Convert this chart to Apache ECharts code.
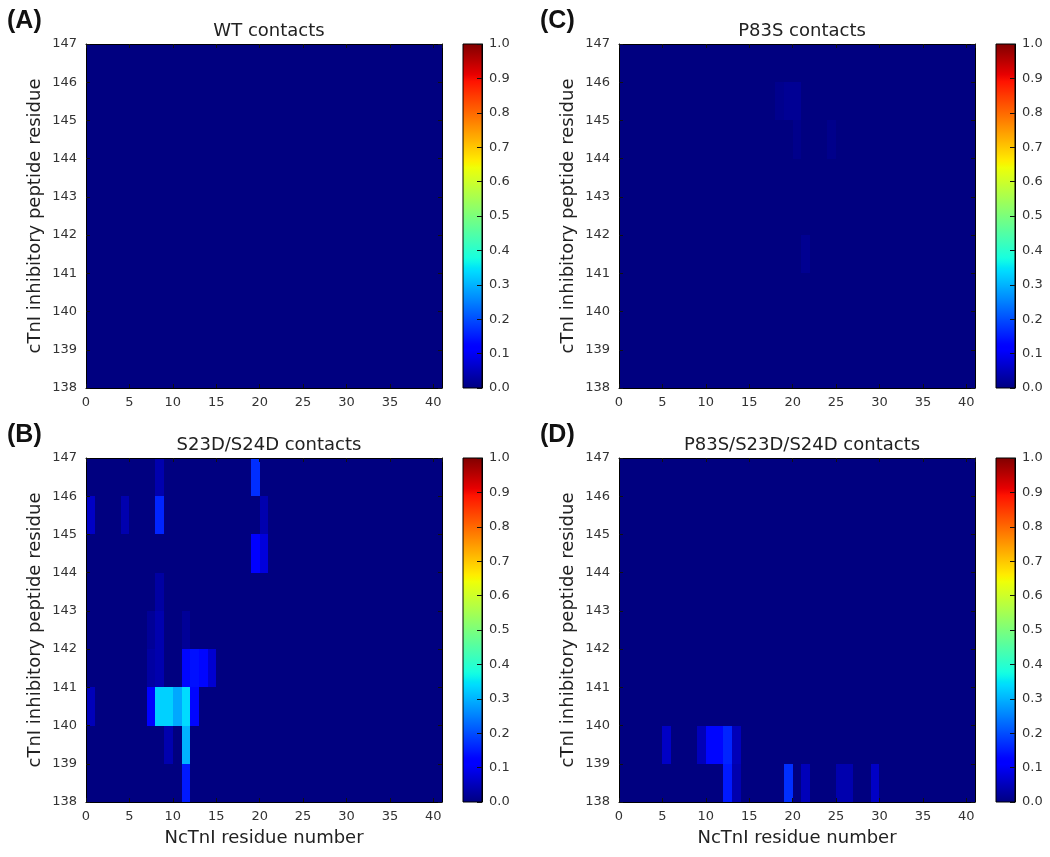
<!DOCTYPE html>
<html>
<head>
<meta charset="utf-8">
<script src="https://cdn.jsdelivr.net/npm/echarts@6/dist/echarts.min.js"></script>
<style>html,body{margin:0;padding:0;background:#fff}#c{width:1050px;height:857px}</style>
</head>
<body>
<div id="c"></div>
<script>
// ---- data (sparse: [NcTnI residue, cTnI residue, contact fraction]; all other cells are 0) ----
const xResidues = [0, 41];          // x extent (residue bins 0..40)
const yResidues = [138, 147];       // y extent (residue bins 138..146)
const xTickStep = 5;
const cbTicks = [0.0, 0.1, 0.2, 0.3, 0.4, 0.5, 0.6, 0.7, 0.8, 0.9, 1.0];

const panelTitles = ['WT contacts', 'S23D/S24D contacts', 'P83S contacts', 'P83S/S23D/S24D contacts'];
const panelLetters = ['(A)', '(B)', '(C)', '(D)'];

const wtContacts = [];
const s23dS24dContacts = [
  [19,146,0.17],[8,146,0.04],
  [0,145,0.06],[4,145,0.04],[8,145,0.16],[20,145,0.04],
  [19,144,0.12],[20,144,0.08],
  [8,143,0.03],
  [7,142,0.02],[8,142,0.04],[11,142,0.02],
  [7,141,0.03],[8,141,0.04],[11,141,0.13],[12,141,0.14],[13,141,0.13],[14,141,0.07],
  [0,140,0.05],[7,140,0.12],[8,140,0.33],[9,140,0.33],[10,140,0.29],[11,140,0.34],[12,140,0.13],
  [9,139,0.04],[11,139,0.30],
  [11,138,0.15]
];
const p83sContacts = [
  [18,145,0.012],[19,145,0.018],[20,145,0.018],
  [20,144,0.01],[24,144,0.01],
  [21,141,0.015]
];
const p83sS23dS24dContacts = [
  [5,139,0.06],[9,139,0.05],[10,139,0.13],[11,139,0.13],[12,139,0.16],[13,139,0.05],
  [12,138,0.15],[13,138,0.04],[19,138,0.17],[21,138,0.05],[25,138,0.04],[26,138,0.04],[29,138,0.06]
];
const panelData = [wtContacts, s23dS24dContacts, p83sContacts, p83sS23dS24dContacts];

// ---- jet colormap (matplotlib segment data) ----
const JET = {
  r: [[0,0],[0.35,0],[0.66,1],[0.89,1],[1,0.5]],
  g: [[0,0],[0.125,0],[0.375,1],[0.64,1],[0.91,0],[1,0]],
  b: [[0,0.5],[0.11,1],[0.34,1],[0.65,0],[1,0]]
};
function seg(pts, v) {
  v = Math.max(0, Math.min(1, v));
  for (let i = 1; i < pts.length; i++) {
    if (v <= pts[i][0]) {
      const t = (v - pts[i-1][0]) / (pts[i][0] - pts[i-1][0]);
      return pts[i-1][1] + t * (pts[i][1] - pts[i-1][1]);
    }
  }
  return pts[pts.length-1][1];
}
function jet(v) {
  const c = k => Math.round(255 * seg(JET[k], v));
  return 'rgb(' + c('r') + ',' + c('g') + ',' + c('b') + ')';
}

// full table built from the sparse lists
function fullTable(list) {
  const m = {};
  list.forEach(d => { m[d[0] + '_' + d[1]] = d[2]; });
  const out = [];
  for (let x = xResidues[0]; x < xResidues[1]; x++)
    for (let y = yResidues[0]; y < yResidues[1]; y++)
      out.push([x, y, m[x + '_' + y] || 0]);
  return out;
}

// ---- layout ----
const FONT = 'DejaVu Sans';
const plotW = 356, plotH = 344;
const lefts = [86, 86, 619, 619];
const tops = [44, 458, 44, 458];
const cbOffset = 377, cbW = 19;

const grid = [], xAxis = [], yAxis = [], series = [], title = [];
const axisLineStyle = { color: '#000', width: 1 };
const labelStyle = { color: '#333', fontSize: 13, fontFamily: FONT };
const tickStyle = { show: true, inside: true, length: 4, lineStyle: { color: '#111' } };

for (let p = 0; p < 4; p++) {
  const gi = grid.length;
  grid.push({ left: lefts[p], top: tops[p], width: plotW, height: plotH,
              show: true, backgroundColor: jet(0), borderWidth: 0 });
  const bottomRow = (p === 1 || p === 3);
  const xi = xAxis.length;
  xAxis.push({
    type: 'value', gridIndex: gi, min: xResidues[0], max: xResidues[1], interval: xTickStep,
    position: 'bottom', z: 5,
    axisLine: { show: true, onZero: false, lineStyle: axisLineStyle },
    axisTick: tickStyle,
    axisLabel: Object.assign({ margin: 8, showMaxLabel: false }, labelStyle),
    splitLine: { show: false },
    name: bottomRow ? 'NcTnI residue number' : '',
    nameLocation: 'middle', nameGap: 27,
    nameTextStyle: { color: '#222', fontSize: 18, fontFamily: FONT }
  });
  xAxis.push({
    type: 'value', gridIndex: gi, min: xResidues[0], max: xResidues[1], interval: xTickStep,
    position: 'top', z: 5,
    axisLine: { show: true, onZero: false, lineStyle: axisLineStyle },
    axisTick: tickStyle,
    axisLabel: { show: false }, splitLine: { show: false }
  });
  const yi = yAxis.length;
  yAxis.push({
    type: 'value', gridIndex: gi, min: yResidues[0], max: yResidues[1], interval: 1,
    position: 'left', z: 5,
    axisLine: { show: true, onZero: false, lineStyle: axisLineStyle },
    axisTick: tickStyle,
    axisLabel: Object.assign({ margin: 9 }, labelStyle),
    splitLine: { show: false },
    name: 'cTnI inhibitory peptide residue',
    nameLocation: 'middle', nameGap: 42, nameRotate: 90,
    nameTextStyle: { color: '#222', fontSize: 18, fontFamily: FONT }
  });
  yAxis.push({
    type: 'value', gridIndex: gi, min: yResidues[0], max: yResidues[1], interval: 1,
    position: 'right', z: 5,
    axisLine: { show: true, onZero: false, lineStyle: axisLineStyle },
    axisTick: tickStyle,
    axisLabel: { show: false }, splitLine: { show: false }
  });
  series.push({
    type: 'custom', xAxisIndex: xi, yAxisIndex: yi, z: 1,
    data: fullTable(panelData[p]),
    renderItem: function (params, api) {
      const x = api.value(0), y = api.value(1), v = api.value(2);
      const a = api.coord([x, y + 1]);
      const b = api.coord([x + 1, y]);
      const x0 = Math.round(a[0]), y0 = Math.round(a[1]);
      const x1 = Math.round(b[0]), y1 = Math.round(b[1]);
      return { type: 'rect',
        shape: { x: x0, y: y0, width: x1 - x0, height: y1 - y0 },
        style: { fill: jet(v), stroke: null, lineWidth: 0 } };
    }
  });

  // colorbar
  const cg = grid.length;
  grid.push({ left: lefts[p] + cbOffset, top: tops[p], width: cbW, height: plotH });
  const cxi = xAxis.length;
  xAxis.push({ type: 'value', gridIndex: cg, min: 0, max: 1, show: false });
  const cyi = yAxis.length;
  yAxis.push({
    type: 'value', gridIndex: cg, min: cbTicks[0], max: cbTicks[cbTicks.length - 1], interval: 0.1,
    position: 'right', z: 5,
    axisLine: { show: true, onZero: false, lineStyle: axisLineStyle },
    axisTick: { show: true, inside: true, length: 5, lineStyle: { color: '#111' } },
    axisLabel: Object.assign({ margin: 7, formatter: v => v.toFixed(1) }, labelStyle),
    splitLine: { show: false }
  });
  const stops = [];
  for (let i = 0; i <= 100; i++) stops.push({ offset: i / 100, color: jet(1 - i / 100) });
  series.push({
    type: 'custom', xAxisIndex: cxi, yAxisIndex: cyi, z: 1,
    data: [[0, cbTicks[0], 1, cbTicks[cbTicks.length - 1]]],
    renderItem: function (params, api) {
      const a = api.coord([api.value(0), api.value(3)]);
      const b = api.coord([api.value(2), api.value(1)]);
      return { type: 'rect',
        shape: { x: a[0], y: a[1], width: b[0] - a[0], height: b[1] - a[1] },
        style: { fill: new echarts.graphic.LinearGradient(0, 0, 0, 1, stops), stroke: '#000', lineWidth: 1 } };
    }
  });

  // titles
  title.push({
    text: panelTitles[p], left: lefts[p] + plotW / 2, top: tops[p] - 27, textAlign: 'center',
    textStyle: { color: '#222', fontSize: 18, fontWeight: 'normal', fontFamily: FONT }
  });
  title.push({
    text: panelLetters[p], left: lefts[p] - 84, top: tops[p] - 40,
    textStyle: { color: '#111', fontSize: 25, fontWeight: 'bold', fontFamily: 'Liberation Sans' }
  });
}

const chart = echarts.init(document.getElementById('c'), null, { renderer: 'canvas' });
chart.setOption({
  animation: false,
  backgroundColor: '#fff',
  title: title, grid: grid, xAxis: xAxis, yAxis: yAxis, series: series
});
</script>
</body>
</html>
